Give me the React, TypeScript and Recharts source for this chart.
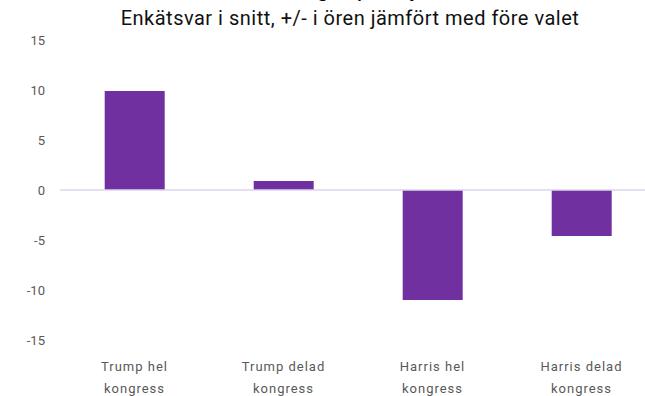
import { Bar, BarChart, ReferenceLine, XAxis, YAxis } from "recharts";

const categories = ["Trump hel kongress", "Trump delad kongress", "Harris hel kongress", "Harris delad kongress"];
const values = [9.9, 0.9, -11, -4.6];
const yTicks = [-15, -10, -5, 0, 5, 10, 15];

const title = "Förväntningar på styrräntan";
const subtitle = "Enkätsvar i snitt, +/- i ören jämfört med före valet";

const data = categories.map((name, i) => ({ name, value: values[i] }));

const font = "Roboto, 'Noto Sans', sans-serif";
const tickColor = "#595959";

function CategoryTick(props: any) {
  const { x, y, payload } = props;
  const words: string[] = String(payload.value).split(" ");
  const first = words.slice(0, 2).join(" ");
  const second = words.slice(2).join(" ");
  return (
    <text
      x={x}
      y={y}
      textAnchor="middle"
      fill={tickColor}
      fontSize={13}
      fontFamily={font}
      letterSpacing={1}
    >
      <tspan x={x} dy={23}>{first}</tspan>
      <tspan x={x} dy={22}>{second}</tspan>
    </text>
  );
}

export default function App() {
  return (
    <div
      style={{
        position: "absolute",
        left: 0,
        top: 0,
        width: 645,
        height: 396,
        overflow: "hidden",
        background: "#fff",
      }}
    >
      <div
        style={{
          position: "absolute",
          left: 0,
          top: -26,
          width: 700,
          textAlign: "center",
          fontFamily: font,
          fontSize: 24,
          color: "#000",
          whiteSpace: "nowrap",
        }}
      >
        {title}
      </div>
      <div
        style={{
          position: "absolute",
          left: 0,
          top: 6,
          width: 700,
          textAlign: "center",
          fontFamily: font,
          fontSize: 20,
          letterSpacing: 0.5,
          color: "#111",
          whiteSpace: "nowrap",
        }}
      >
        {subtitle}
      </div>
      <BarChart
        width={656}
        height={396}
        data={data}
        margin={{ top: 40, right: 0, left: 0, bottom: 0 }}
        barCategoryGap="30%"
      >
        <XAxis
          dataKey="name"
          axisLine={false}
          tickLine={false}
          height={56}
          interval={0}
          tick={<CategoryTick />}
        />
        <YAxis
          domain={[-15, 15]}
          ticks={yTicks}
          width={60}
          axisLine={false}
          tickLine={false}
          tickSize={0}
          tickMargin={15}
          tick={{ fill: tickColor, fontSize: 13, fontFamily: font }}
        />
        <ReferenceLine y={0} stroke="#dcd6ec" strokeWidth={1.5} />
        <Bar dataKey="value" fill="#7030a0" isAnimationActive={false} />
      </BarChart>
    </div>
  );
}
